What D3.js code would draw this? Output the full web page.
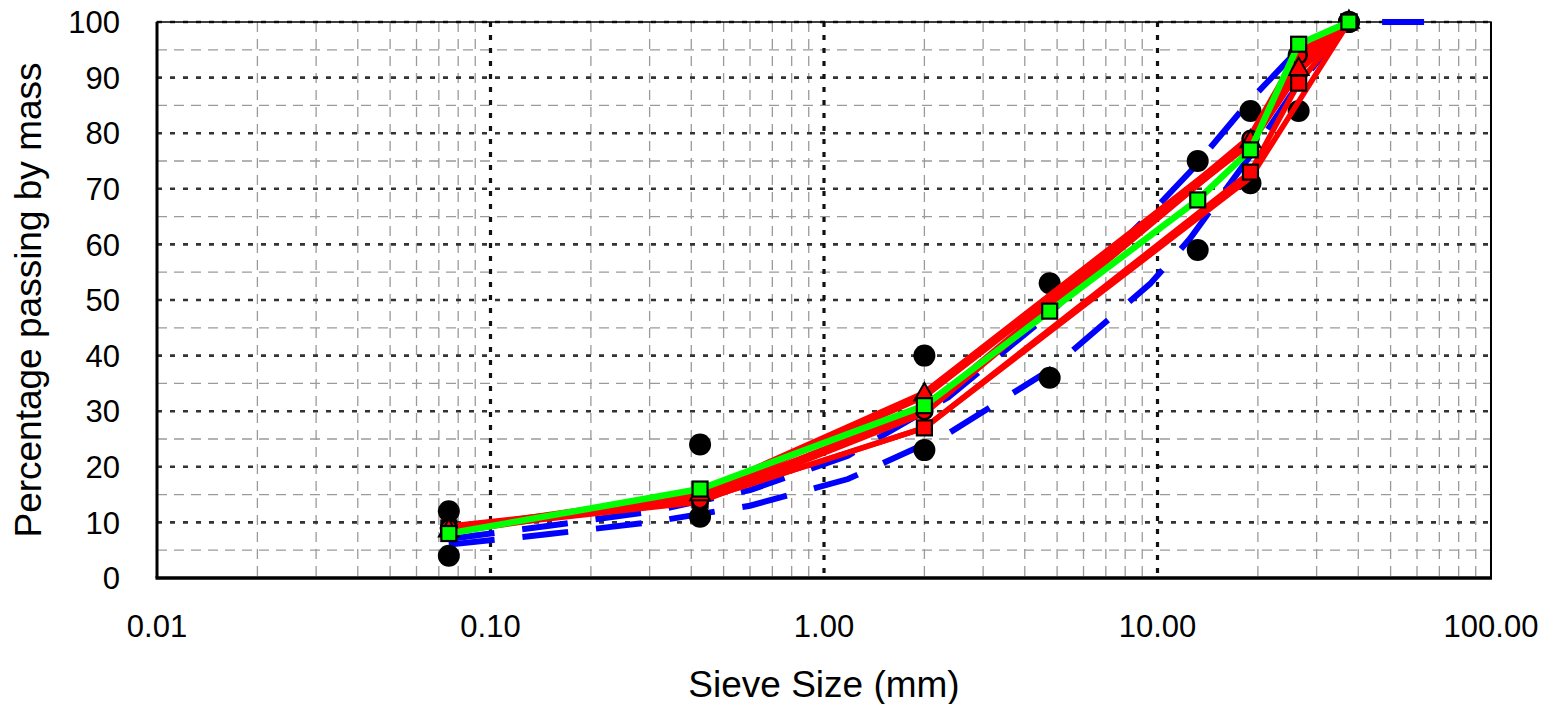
<!DOCTYPE html>
<html>
<head>
<meta charset="utf-8">
<script src="https://cdn.jsdelivr.net/npm/d3@7"></script>
<style>
  body { margin: 0; background: #fff; }
  text { font-family: "Liberation Sans", Arial, sans-serif; fill: #000; }
</style>
</head>
<body>
<svg id="chart_svg"></svg>
<script>
// sieve sizes (mm) and % passing
var sieveSizes = [0.075, 0.425, 2.0, 4.75, 13.2, 19.0, 26.5, 37.5];
var upperLimit = [12, 24, 40, 53, 75, 84, 94, 100];
var lowerLimit = [4, 11, 23, 36, 59, 71, 84, 100];
var greenMix = [8, 16, 31, 48, 68, 77, 96, 100];
var redSizes = [0.075, 0.425, 2.0, 19.0, 26.5, 37.5];
var redCircleMix = [9, 14, 30, 79, 94, 100];
var redTriangleMix = [8.5, 15, 33, 78.5, 91.5, 100];
var redSquareMix = [9, 14, 27, 73, 89, 100];
var redPlainSizes = [0.075, 0.425, 2.0, 19.0, 37.5];
var redPlainMix = [9, 14, 27, 72, 100];
var curveSizes = [0.075, 0.15, 0.3, 0.6, 1.18, 2.36, 4.75, 9.5, 12.5, 19.0, 25.0, 37.5, 63.0];
var blueUpper = [7, 9.4, 11.9, 15.8, 22, 32.5, 47.5, 65.5, 73, 86, 93.5, 100, 100];
var blueLower = [6, 7.9, 10, 13, 17.8, 26, 37.4, 52.9, 61, 76, 86.7, 100];
var xTicks = [0.01, 0.1, 1, 10, 100];
var yTicks = [0, 10, 20, 30, 40, 50, 60, 70, 80, 90, 100];
var yMinor = [5, 15, 25, 35, 45, 55, 65, 75, 85, 95];

var margin = {top: 22, right: 64, bottom: 126, left: 157};
var width = 1555 - margin.left - margin.right;
var height = 704 - margin.top - margin.bottom;

var svg = d3.select('#chart_svg')
  .attr('width', 1555)
  .attr('height', 704);

var g = svg.append('g')
  .attr('transform', 'translate(' + margin.left + ',' + margin.top + ')');

var x = d3.scaleLog()
  .domain([0.01, 100])
  .range([0, width]);

var y = d3.scaleLinear()
  .domain([0, 100])
  .range([height, 0]);

function pairs(sizes, values) {
  return values.map(function(v, i) {
    return [sizes[i], v];
  });
}

var xMinor = [];
[0.01, 0.1, 1, 10].forEach(function(dec) {
  for (var k = 2; k <= 9; k++) xMinor.push(dec * k);
});

// minor grid
g.selectAll('.vminor')
  .data(xMinor)
  .enter()
  .append('line')
  .attr('x1', function(d) { return x(d); })
  .attr('x2', function(d) { return x(d); })
  .attr('y1', 0)
  .attr('y2', height)
  .style('stroke', '#9a9a9a')
  .style('stroke-width', 1.3)
  .style('stroke-dasharray', '10,7');

g.selectAll('.hminor')
  .data(yMinor)
  .enter()
  .append('line')
  .attr('x1', 0)
  .attr('x2', width)
  .attr('y1', function(d) { return y(d); })
  .attr('y2', function(d) { return y(d); })
  .style('stroke', '#9a9a9a')
  .style('stroke-width', 1.3)
  .style('stroke-dasharray', '10,7');

// major grid
g.selectAll('.hmajor')
  .data(yTicks.slice(1))
  .enter()
  .append('line')
  .attr('x1', 0)
  .attr('x2', width)
  .attr('y1', function(d) { return y(d); })
  .attr('y2', function(d) { return y(d); })
  .style('stroke', '#333')
  .style('stroke-width', 2.6)
  .style('stroke-dasharray', '5,8');

g.selectAll('.vmajor')
  .data([0.1, 1, 10])
  .enter()
  .append('line')
  .attr('x1', function(d) { return x(d); })
  .attr('x2', function(d) { return x(d); })
  .attr('y1', 0)
  .attr('y2', height)
  .style('stroke', '#111')
  .style('stroke-width', 3.2)
  .style('stroke-dasharray', '5,8');

// plot border
g.append('rect')
  .attr('width', width)
  .attr('height', height)
  .style('fill', 'none')
  .style('stroke', '#000')
  .style('stroke-width', 1.5);

g.append('line')
  .attr('x1', width).attr('x2', width)
  .attr('y1', 0).attr('y2', height)
  .style('stroke', '#000')
  .style('stroke-width', 2);

// axes lines
g.append('line')
  .attr('x1', 0).attr('x2', 0)
  .attr('y1', 0).attr('y2', height)
  .style('stroke', '#000')
  .style('stroke-width', 3);

g.append('line')
  .attr('x1', -1.5).attr('x2', width + 1)
  .attr('y1', height).attr('y2', height)
  .style('stroke', '#000')
  .style('stroke-width', 3.5);

// tick labels
g.selectAll('.ylabel')
  .data(yTicks)
  .enter()
  .append('text')
  .attr('x', -37)
  .attr('y', function(d) { return y(d); })
  .attr('dy', '0.36em')
  .style('text-anchor', 'end')
  .style('font-size', '31px')
  .text(function(d) { return d; });

g.selectAll('.xlabel')
  .data(xTicks)
  .enter()
  .append('text')
  .attr('x', function(d) { return x(d); })
  .attr('y', height + 59)
  .style('text-anchor', 'middle')
  .style('font-size', '31px')
  .text(function(d) { return d3.format('.2f')(d); });

svg.append('text')
  .attr('x', margin.left + width / 2)
  .attr('y', 697)
  .style('text-anchor', 'middle')
  .style('font-size', '37px')
  .text('Sieve Size (mm)');

svg.append('text')
  .attr('transform', 'translate(41,' + (margin.top + height / 2) + ') rotate(-90)')
  .style('text-anchor', 'middle')
  .style('font-size', '37px')
  .text('Percentage passing by mass');

var line = d3.line()
  .x(function(d) { return x(d[0]); })
  .y(function(d) { return y(d[1]); });

// blue dashed reference curves
[blueUpper, blueLower].forEach(function(vals) {
  g.append('path')
    .datum(pairs(curveSizes, vals))
    .attr('d', line)
    .style('fill', 'none')
    .style('stroke', '#0000ff')
    .style('stroke-width', 6)
    .style('stroke-dasharray', '46,28');
});

// envelope points
g.selectAll('.limit-dot')
  .data(pairs(sieveSizes, upperLimit).concat(pairs(sieveSizes, lowerLimit)))
  .enter()
  .append('circle')
  .attr('r', 11)
  .attr('cx', function(d) { return x(d[0]); })
  .attr('cy', function(d) { return y(d[1]); })
  .style('fill', '#000');

// red mixes
var redLines = [
  {data: pairs(redPlainSizes, redPlainMix), w: 5.5},
  {data: pairs(redSizes, redSquareMix), w: 5.5},
  {data: pairs(redSizes, redCircleMix), w: 9},
  {data: pairs(redSizes, redTriangleMix), w: 9}
];

redLines.forEach(function(s) {
  g.append('path')
    .datum(s.data)
    .attr('d', line)
    .style('fill', 'none')
    .style('stroke', '#ff0000')
    .style('stroke-width', s.w)
    .style('stroke-linejoin', 'round');
});

g.selectAll('.red-sq')
  .data(pairs(redSizes, redSquareMix))
  .enter()
  .append('rect')
  .attr('x', function(d) { return x(d[0]) - 7.5; })
  .attr('y', function(d) { return y(d[1]) - 7.5; })
  .attr('width', 15)
  .attr('height', 15)
  .style('fill', '#ff0000')
  .style('stroke', '#000')
  .style('stroke-width', 2.2);

g.selectAll('.red-circle')
  .data(pairs(redSizes, redCircleMix))
  .enter()
  .append('circle')
  .attr('r', 8)
  .attr('cx', function(d) { return x(d[0]); })
  .attr('cy', function(d) { return y(d[1]); })
  .style('fill', '#ff0000')
  .style('stroke', '#000')
  .style('stroke-width', 2.5);

g.selectAll('.red-tri')
  .data(pairs(redSizes, redTriangleMix))
  .enter()
  .append('path')
  .attr('d', d3.symbol().type(d3.symbolTriangle).size(170))
  .attr('transform', function(d) {
    return 'translate(' + x(d[0]) + ',' + y(d[1]) + ')';
  })
  .style('fill', '#ff0000')
  .style('stroke', '#000')
  .style('stroke-width', 2);

g.append('path')
  .datum(pairs(sieveSizes, greenMix))
  .attr('d', line)
  .style('fill', 'none')
  .style('stroke', '#00ff00')
  .style('stroke-width', 6.5)
  .style('stroke-linejoin', 'round');

g.selectAll('.green-sq')
  .data(pairs(sieveSizes, greenMix))
  .enter()
  .append('rect')
  .attr('x', function(d) { return x(d[0]) - 7.5; })
  .attr('y', function(d) { return y(d[1]) - 7.5; })
  .attr('width', 15)
  .attr('height', 15)
  .style('fill', '#00ff00')
  .style('stroke', '#000')
  .style('stroke-width', 2.2);
</script>
</body>
</html>
